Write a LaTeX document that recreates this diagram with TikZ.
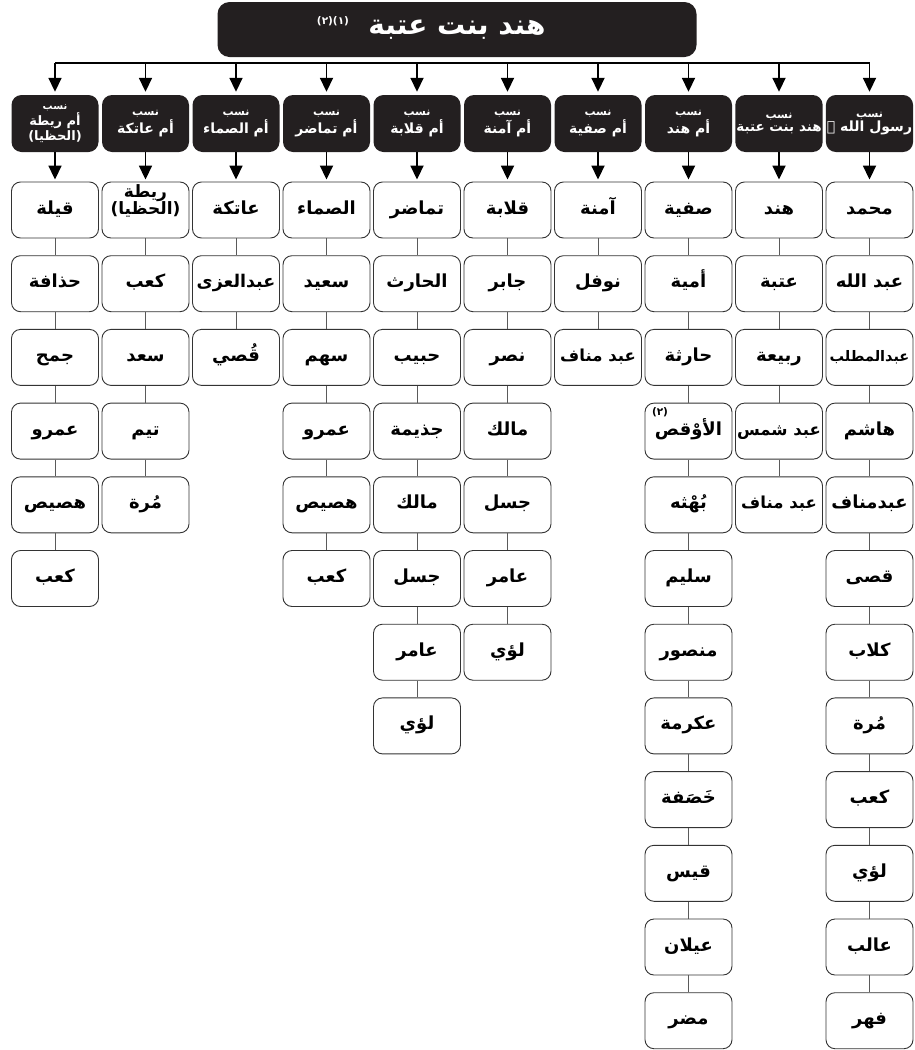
\documentclass[tikz,border=0pt]{standalone}
\usepackage{fontspec}
\usetikzlibrary{arrows.meta}
\TeXXeTstate=1
\newfontfamily\arfont[Script=Arabic]{DejaVu Sans}
\newcommand\AR[1]{{\arfont\bfseries\beginR #1\endR}}
\newcommand\ARs[1]{{\fontsize{16.5}{18}\selectfont\AR{#1}}}
\newcommand\hsmall[1]{{\fontsize{11}{13}\selectfont\AR{#1}}}
\newcommand\hmain[1]{{\fontsize{14}{16}\selectfont\AR{#1}}}
\definecolor{blk}{HTML}{231F20}
\definecolor{edgec}{HTML}{333333}
\definecolor{lnk}{HTML}{5A5A5A}
\tikzset{
  box/.style={draw=edgec,line width=0.9pt,rounded corners=9pt,fill=white,
    minimum width=87pt,minimum height=56pt,inner sep=1pt,align=center,
    text height=13pt,text depth=5pt,
    font=\fontsize{18}{20}\selectfont},
  hdr/.style={fill=blk,rounded corners=10pt,text=white,
    minimum width=87pt,minimum height=57pt,inner sep=1pt,align=center},
  ttl/.style={fill=blk,rounded corners=12pt,text=white,
    minimum width=479pt,minimum height=55pt,font=\fontsize{28}{32}\selectfont},
  link/.style={draw=lnk,line width=0.9pt},
  arr/.style={draw=black,line width=1.8pt,-{Triangle[length=14pt,width=13pt]}},
  bus/.style={draw=black,line width=1.8pt},
  supn/.style={font=\fontsize{10.5}{11}\selectfont,inner sep=0pt}
}
% \bx{column}{row}{content}
\newcommand\bx[3]{%
  \pgfmathsetmacro\bxx{55+90.5*(10-#1)}%
  \pgfmathsetmacro\bxy{210+73.7*(#2-1)}%
  \node[box] (n#1-#2) at (\bxx,\bxy) {#3};%
}
\newcommand\hx[2]{%
  \pgfmathsetmacro\hxx{55+90.5*(10-#1)}%
  \node[hdr] (h#1) at (\hxx,123.5) {#2};%
}
\begin{document}
\begin{tikzpicture}[x=1pt,y=-1pt]
\useasboundingbox (0,0) rectangle (914,1050);
% title
\node[ttl] (t) at (457,29.5) {\AR{هند بنت عتبة}};
\node[supn,text=white] (tsup) at (333,21) {\AR{(١)(٢)}};
% bus
\coordinate (busL) at (55,63);
\coordinate (busR) at (869.5,63);
\draw[bus] (busL) -- (busR);
% headers
\hx{1}{\hsmall{نسب}\\[1pt]\hmain{رسول الله ﷺ}}
\hx{2}{\hsmall{نسب}\\[1pt]{\fontsize{13.5}{16}\selectfont\AR{هند بنت عتبة}}}
\hx{3}{\hsmall{نسب}\\[1pt]\hmain{أم هند}}
\hx{4}{\hsmall{نسب}\\[1pt]\hmain{أم صفية}}
\hx{5}{\hsmall{نسب}\\[1pt]\hmain{أم آمنة}}
\hx{6}{\hsmall{نسب}\\[1pt]\hmain{أم قلابة}}
\hx{7}{\hsmall{نسب}\\[1pt]\hmain{أم تماضر}}
\hx{8}{\hsmall{نسب}\\[1pt]\hmain{أم الصماء}}
\hx{9}{\hsmall{نسب}\\[1pt]\hmain{أم عاتكة}}
\hx{10}{{\fontsize{10}{12}\selectfont\AR{نسب}}\\[1pt]{\fontsize{13}{15}\selectfont\AR{أم ريطة}}\\[1pt]{\fontsize{13}{15}\selectfont\AR{(الحظيا)}}}
\foreach \i in {1,...,10} {
  \draw[arr,shorten >=3pt] (h\i.north |- busL) -- (h\i.north);
}
% column 1
\bx{1}{1}{\AR{محمد}}
\bx{1}{2}{\AR{عبد الله}}
\bx{1}{3}{{\fontsize{14.5}{18}\selectfont\AR{عبدالمطلب}}}
\bx{1}{4}{\AR{هاشم}}
\bx{1}{5}{\AR{عبدمناف}}
\bx{1}{6}{\AR{قصى}}
\bx{1}{7}{\AR{كلاب}}
\bx{1}{8}{\AR{مُرة}}
\bx{1}{9}{\AR{كعب}}
\bx{1}{10}{\AR{لؤي}}
\bx{1}{11}{\AR{عالب}}
\bx{1}{12}{\AR{فهر}}
% column 2
\bx{2}{1}{\AR{هند}}
\bx{2}{2}{\AR{عتبة}}
\bx{2}{3}{\AR{ربيعة}}
\bx{2}{4}{\ARs{عبد شمس}}
\bx{2}{5}{\ARs{عبد مناف}}
% column 3
\bx{3}{1}{\AR{صفية}}
\bx{3}{2}{\AR{أمية}}
\bx{3}{3}{\AR{حارثة}}
\bx{3}{4}{\AR{الأوْقص}}
\bx{3}{5}{\AR{بُهْثه}}
\bx{3}{6}{\AR{سليم}}
\bx{3}{7}{\AR{منصور}}
\bx{3}{8}{\AR{عكرمة}}
\bx{3}{9}{\AR{خَصَفة}}
\bx{3}{10}{\AR{قيس}}
\bx{3}{11}{\AR{عيلان}}
\bx{3}{12}{\AR{مضر}}
% column 4
\bx{4}{1}{\AR{آمنة}}
\bx{4}{2}{\AR{نوفل}}
\bx{4}{3}{\ARs{عبد مناف}}
% column 5
\bx{5}{1}{\AR{قلابة}}
\bx{5}{2}{\AR{جابر}}
\bx{5}{3}{\AR{نصر}}
\bx{5}{4}{\AR{مالك}}
\bx{5}{5}{\AR{جسل}}
\bx{5}{6}{\AR{عامر}}
\bx{5}{7}{\AR{لؤي}}
% column 6
\bx{6}{1}{\AR{تماضر}}
\bx{6}{2}{\AR{الحارث}}
\bx{6}{3}{\AR{حبيب}}
\bx{6}{4}{\AR{جذيمة}}
\bx{6}{5}{\AR{مالك}}
\bx{6}{6}{\AR{جسل}}
\bx{6}{7}{\AR{عامر}}
\bx{6}{8}{\AR{لؤي}}
% column 7
\bx{7}{1}{\AR{الصماء}}
\bx{7}{2}{\AR{سعيد}}
\bx{7}{3}{\AR{سهم}}
\bx{7}{4}{\AR{عمرو}}
\bx{7}{5}{\AR{هصيص}}
\bx{7}{6}{\AR{كعب}}
% column 8
\bx{8}{1}{\AR{عاتكة}}
\bx{8}{2}{{\fontsize{17.5}{18}\selectfont\AR{عبدالعزى}}}
\bx{8}{3}{\AR{قُصي}}
% column 9
\node[box,text height=11pt,text depth=3pt,font=\fontsize{17}{18}\selectfont] (n9-1) at (145.5,210) {\AR{ريطة}\\[-1pt]\AR{(الحظيا)}};
\bx{9}{2}{\AR{كعب}}
\bx{9}{3}{\AR{سعد}}
\bx{9}{4}{\AR{تيم}}
\bx{9}{5}{\AR{مُرة}}
% column 10
\bx{10}{1}{\AR{قيلة}}
\bx{10}{2}{\AR{حذافة}}
\bx{10}{3}{\AR{جمح}}
\bx{10}{4}{\AR{عمرو}}
\bx{10}{5}{\AR{هصيص}}
\bx{10}{6}{\AR{كعب}}
% links within columns
\foreach \c/\n in {1/12,2/5,3/12,4/3,5/7,6/8,7/6,8/3,9/5,10/6} {
  \foreach \r in {2,...,\n} {
    \pgfmathtruncatemacro\p{\r-1}
    \draw[link] (n\c-\p.south) -- (n\c-\r.north);
  }
}
% footnote mark
\node[supn] (s34) at (660,412) {\AR{(٢)}};
% arrows from headers
\foreach \i in {1,...,10} {
  \draw[arr,shorten >=2pt] (h\i.south) -- (n\i-1.north);
}
\end{tikzpicture}
\end{document}
